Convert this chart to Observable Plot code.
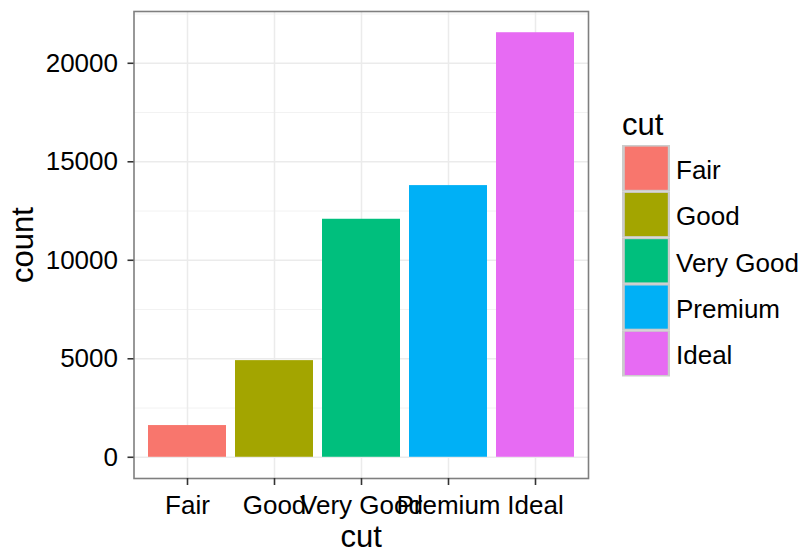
<!DOCTYPE html>
<html>
<head>
<meta charset="utf-8">
<script src="https://cdn.jsdelivr.net/npm/d3@7"></script>
<script src="https://cdn.jsdelivr.net/npm/@observablehq/plot@0.6"></script>
<style>
  body { margin: 0; background: #fff; }
  #wrap { position: relative; width: 806px; height: 553px; font-family: "Liberation Sans", Arial, Helvetica, sans-serif; }
  #wrap > svg { position: absolute; left: 0; top: 0; }
</style>
</head>
<body>
<div id="wrap"></div>
<script>
const cuts = ["Fair", "Good", "Very Good", "Premium", "Ideal"];
const counts = [1610, 4906, 12082, 13791, 21551];
const palette = ["#F8766D", "#A3A500", "#00BF7D", "#00B0F6", "#E76BF3"];
const yTicks = [0, 5000, 10000, 15000, 20000];
const yMinor = [2500, 7500, 12500, 17500, 22500];
const xTitle = "cut";
const yTitle = "count";
const legendTitle = "cut";

const data = cuts.map((c, i) => ({cut: c, count: counts[i]}));
const font = '"Liberation Sans", Arial, Helvetica, sans-serif';

const chart = Plot.plot({
  width: 806,
  height: 553,
  marginLeft: 133.5,
  marginRight: 218,
  marginTop: 11,
  marginBottom: 75,
  style: {fontFamily: font, background: "#fff", color: "#000"},
  x: {domain: cuts, paddingInner: 0.1, paddingOuter: 0.15, align: 0.5, label: null},
  y: {domain: [-1077.55, 22628.55], label: null},
  color: {domain: cuts, range: palette},
  marks: [
    Plot.gridY(yMinor, {stroke: "#F2F2F2", strokeOpacity: 1, strokeWidth: 1}),
    Plot.gridY(yTicks, {stroke: "#EBEBEB", strokeOpacity: 1, strokeWidth: 1.5}),
    Plot.gridX(cuts, {stroke: "#EBEBEB", strokeOpacity: 1, strokeWidth: 1.5}),
    Plot.barY(data, {x: "cut", y: "count", fill: "cut"}),
    Plot.frame({stroke: "#7F7F7F", strokeWidth: 1.6}),
    Plot.axisY(yTicks, {tickSize: 6, tickPadding: 10, fontSize: 26, stroke: "#333", strokeWidth: 1.6, fill: "#000", tickFormat: d => String(d), label: null}),
    Plot.axisX(cuts, {tickSize: 7, tickPadding: 10, fontSize: 26, stroke: "#333", strokeWidth: 1.6, fill: "#000", label: null}),
    Plot.text([xTitle], {frameAnchor: "bottom", textAnchor: "middle", lineAnchor: "bottom", dy: 68, fontSize: 31, fill: "#000"}),
    Plot.text([yTitle], {frameAnchor: "left", textAnchor: "middle", lineAnchor: "bottom", rotate: -90, dx: -101, fontSize: 31, fill: "#000"})
  ]
});
document.getElementById("wrap").appendChild(chart);

// Legend (ggplot-style, right side)
const leg = d3.create("svg")
  .attr("width", 806).attr("height", 553)
  .style("font-family", font);
leg.append("text").attr("x", 622).attr("y", 135).attr("font-size", 31).attr("fill", "#000").text(legendTitle);
cuts.forEach((c, i) => {
  const top = 145 + 46.3 * i;
  leg.append("rect").attr("x", 622).attr("y", top).attr("width", 48).attr("height", 46.3).attr("fill", "#CCCCCC");
  leg.append("rect").attr("x", 624.8).attr("y", top + 1.6).attr("width", 43).attr("height", 43.2).attr("fill", palette[i]);
  leg.append("text").attr("x", 676).attr("y", top + 34).attr("font-size", 26).attr("fill", "#000").text(c);
});
document.getElementById("wrap").appendChild(leg.node());
</script>
</body>
</html>
